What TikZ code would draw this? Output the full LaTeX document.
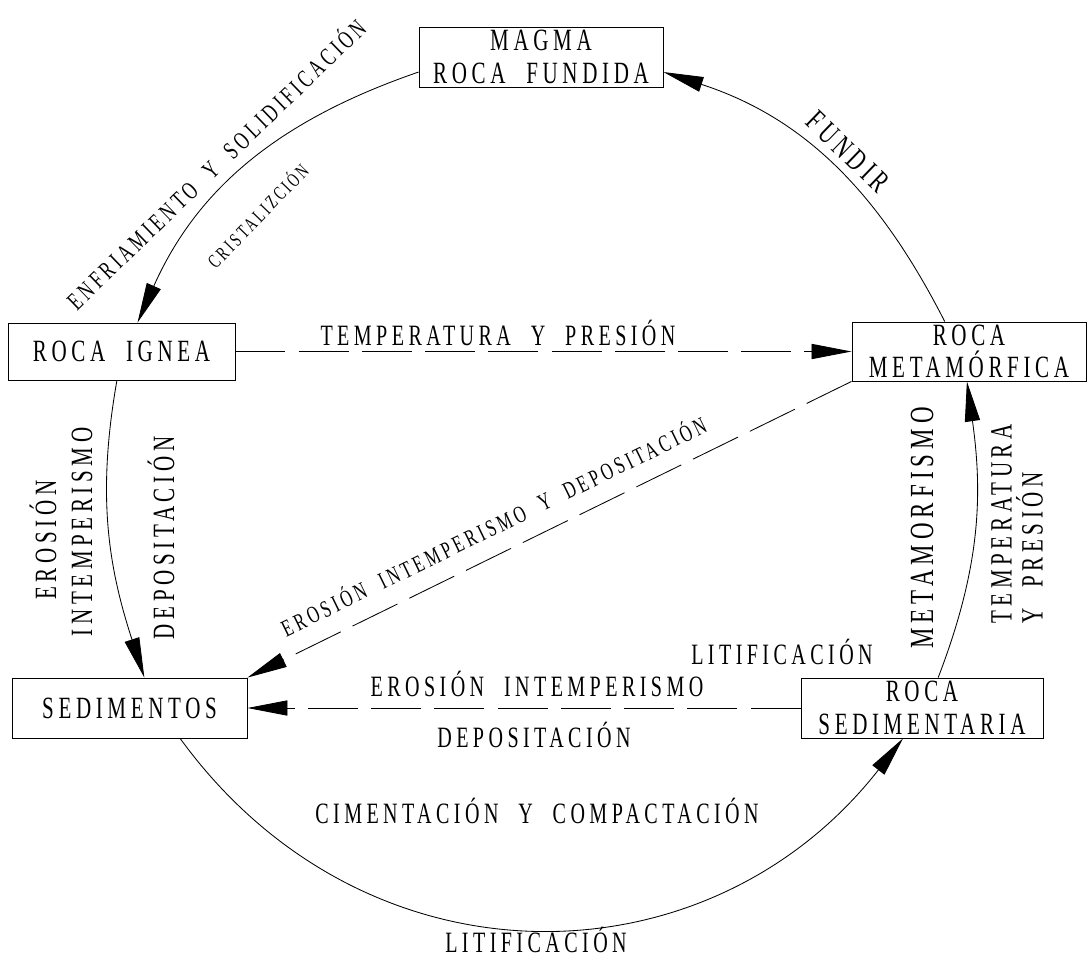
\documentclass[tikz,border=0pt]{standalone}
\usepackage{fontspec}
\setmainfont{Liberation Serif}[FakeStretch=0.68,LetterSpace=15,WordSpace=2.1]
\usetikzlibrary{arrows.meta,%
		positioning}

\begin{document}
\begin{tikzpicture}[x=0.025cm,y=-0.025cm,line width=0.6pt,
	caja/.style={draw,inner sep=0pt,align=center,font=\fontsize{22}{23}\selectfont},
	etiq/.style={inner sep=0pt,font=\fontsize{21}{22}\selectfont},
	flecha/.style={-{Triangle[length=1cm,width=0.38cm]}},
	rayas/.style={dash pattern=on 1.25cm off 0.33cm}]
\useasboundingbox (0,0) rectangle (1088,963);
%cajas
\node[caja,minimum width=6.1cm,minimum height=1.5cm] (magma) at(541,57){MAGMA\\ROCA FUNDIDA};
\node[caja,minimum width=5.675cm,minimum height=1.425cm] (ignea) at(121.5,351.5){ROCA IGNEA};
\node[caja,minimum width=5.875cm,minimum height=1.5cm] (sedim) at(129.5,708){SEDIMENTOS};
\node[caja,minimum width=5.85cm,minimum height=1.475cm] (meta) at(969,351.5){ROCA\\METAMÓRFICA};
\node[caja,minimum width=6.05cm,minimum height=1.5cm] (sedra) at(922,708){ROCA\\SEDIMENTARIA};

%ciclo exterior
\draw[flecha] (magma.187) to[out=199,in=66] (ignea.61);
\draw[flecha] (meta.129) to[out=117,in=-18] (magma.-7);
\draw[flecha] (ignea.261) to[out=260,in=108] (sedim.64);
\draw[flecha,looseness=1.12] (sedim.-31) to[out=306,in=232] (sedra.238);
\draw[flecha] (sedra.62) to[out=69,in=278] (meta.266);

%atajos
\draw[flecha,rayas] (ignea) -- (meta);
\draw[flecha,rayas] (sedra) -- (sedim);
\draw[flecha,rayas] (meta.south west) -- (sedim.north east);

%etiquetas
\node[etiq,rotate=44,font=\fontsize{18}{19}\selectfont] (enfr) at(215,163){ENFRIAMIENTO Y SOLIDIFICACIÓN};
\node[etiq,rotate=46,font=\fontsize{14}{15}\selectfont] (crist) at(257,215){CRISTALIZCIÓN};
\node[etiq,rotate=-44,font=\fontsize{22}{23}\selectfont] (fund) at(848,152){FUNDIR};
\node[etiq,anchor=base] (typ) at(498,345){TEMPERATURA Y PRESIÓN};
\node[etiq,rotate=26,font=\fontsize{17}{18}\selectfont] (eid) at(493,525){EROSIÓN INTEMPERISMO Y DEPOSITACIÓN};
\node[etiq,rotate=90,font=\fontsize{22}{23}\selectfont] (eros) at(43,540){EROSIÓN};
\node[etiq,rotate=90,font=\fontsize{22}{23}\selectfont] (inte) at(82,532){INTEMPERISMO};
\node[etiq,rotate=90,font=\fontsize{22}{23}\selectfont] (depo) at(161,538){DEPOSITACIÓN};
\node[etiq,rotate=90,font=\fontsize{24}{25}\selectfont] (metf) at(922,528){METAMORFISMO};
\node[etiq,rotate=90,align=left,font=\fontsize{22}{22}\selectfont] (typ2) at(1017,524){TEMPERATURA\\Y PRESIÓN};
\node[etiq,anchor=base] (lit1) at(782,664){LITIFICACIÓN};
\node[etiq,anchor=base] (ei) at(537,696){EROSIÓN INTEMPERISMO};
\node[etiq,anchor=base] (dep) at(534,747){DEPOSITACIÓN};
\node[etiq,anchor=base] (cyc) at(537,823){CIMENTACIÓN Y COMPACTACIÓN};
\node[etiq,anchor=base] (lit2) at(536,952){LITIFICACIÓN};
\end{tikzpicture}
\end{document}
